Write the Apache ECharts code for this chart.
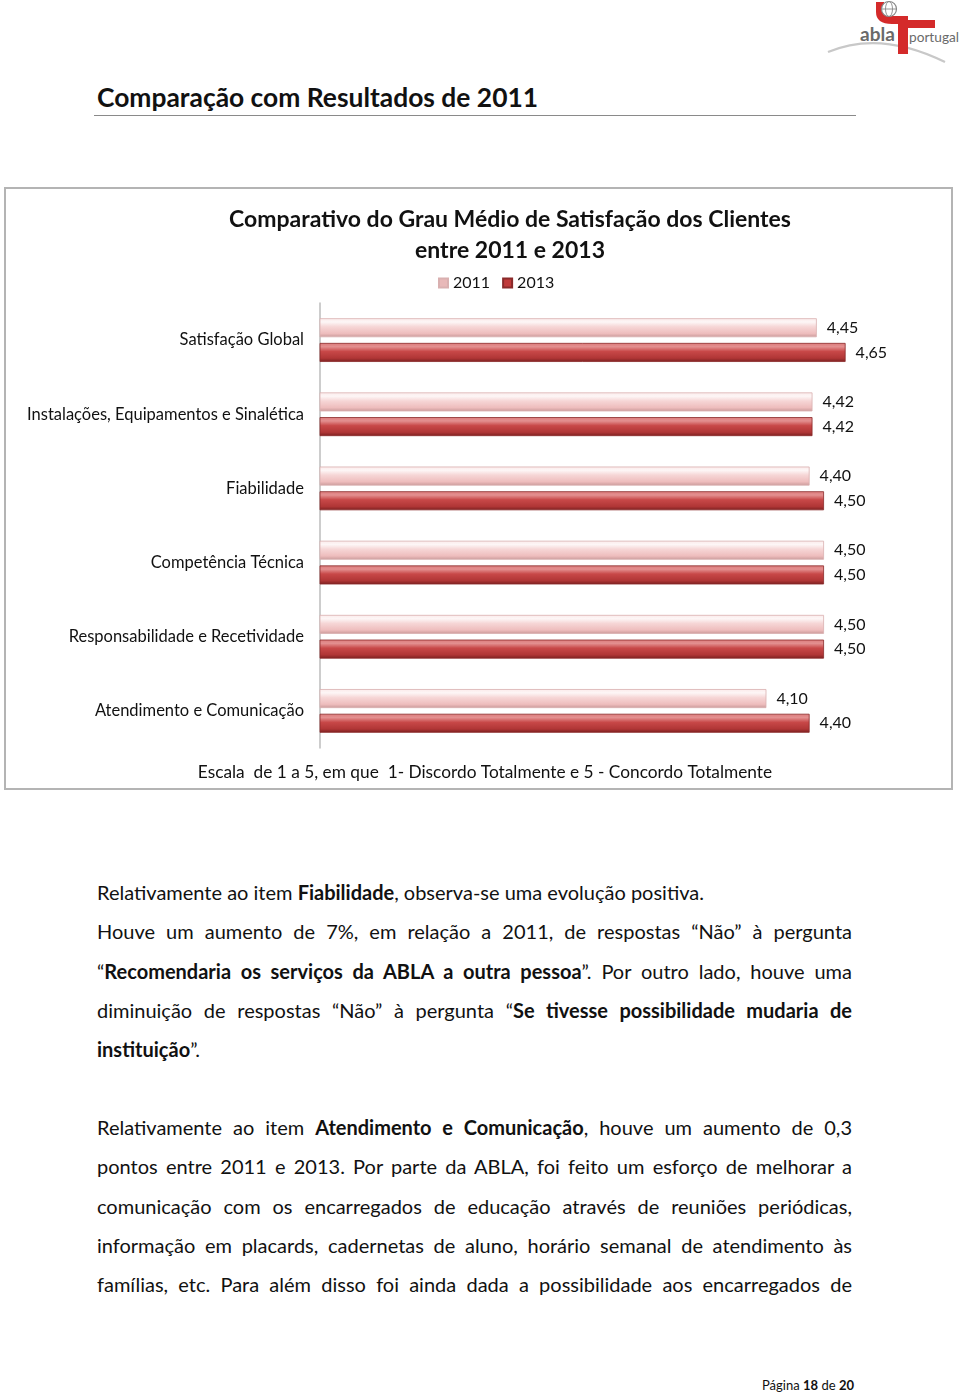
<!DOCTYPE html>
<html>
<head>
<meta charset="utf-8">
<script src="https://cdn.jsdelivr.net/npm/echarts@6/dist/echarts.min.js"></script>
<style>
  html, body { margin:0; padding:0; background:#fff; }
  body { width:960px; height:1394px; position:relative; overflow:hidden; font-family: Lato, "Open Sans", sans-serif; color:#111; }
  #heading { position:absolute; left:97px; top:80px; font-size:26.4px; line-height:34px; font-weight:bold; color:#111; white-space:nowrap; }
  #rule { position:absolute; left:94px; top:115px; width:762px; height:1px; background:#8a8a8a; }
  #box { position:absolute; left:4px; top:187px; width:945px; height:599px; border:2px solid #b4b4b4; }
  #chart { width:945px; height:599px; }
  .para { position:absolute; left:97px; width:755px; font-size:20px; line-height:39.25px; color:#111; }
  .j { text-align:justify; text-align-last:justify; white-space:nowrap; }
  .l { white-space:nowrap; }
  b { font-weight:bold; }
  #footer { position:absolute; left:762px; top:1377px; font-size:13px; color:#111; white-space:nowrap; }
  #logo { position:absolute; left:820px; top:0; }
</style>
</head>
<body>
<svg id="logo" width="140" height="70" viewBox="0 0 140 70">
  <path d="M8 52 Q 60 30 125 62" stroke="#c8c8c8" stroke-width="2.2" fill="none"/>
  <path d="M56 2 L56 12 Q56 24 72 24 L78 24 L78 54 L88 54 L88 28 L115 28 L115 20 L88 20 L88 16 L72 16 Q64 16 64 8 L64 2 Z" fill="#d42a2a"/>
  <circle cx="69" cy="9" r="7.5" fill="#fff" stroke="#888" stroke-width="1.2"/>
  <ellipse cx="69" cy="9" rx="3.5" ry="7.5" fill="none" stroke="#888" stroke-width="0.9"/>
  <line x1="61.5" y1="9" x2="76.5" y2="9" stroke="#888" stroke-width="0.9"/>
  <text x="40" y="41" font-family="Lato, sans-serif" font-weight="bold" font-size="19" fill="#6a6a6a">abla</text>
  <text x="89" y="42" font-family="Lato, sans-serif" font-size="13.5" fill="#6a6a6a" textLength="50" lengthAdjust="spacingAndGlyphs">portugal</text>
</svg>
<div id="heading">Comparação com Resultados de 2011</div>
<div id="rule"></div>
<div id="box"><div id="chart"></div></div>

<div class="para" style="top:873px;">
  <div class="l">Relativamente ao item <b>Fiabilidade</b>, observa-se uma evolução positiva.</div>
  <div class="j">Houve um aumento de 7%, em relação a 2011, de respostas “Não” à pergunta</div>
  <div class="j">“<b>Recomendaria os serviços da ABLA a outra pessoa</b>”. Por outro lado, houve uma</div>
  <div class="j">diminuição de respostas “Não” à pergunta “<b>Se tivesse possibilidade mudaria de</b></div>
  <div class="l"><b>instituição</b>”.</div>
</div>
<div class="para" style="top:1108px;">
  <div class="j">Relativamente ao item <b>Atendimento e Comunicação</b>, houve um aumento de 0,3</div>
  <div class="j">pontos entre 2011 e 2013. Por parte da ABLA, foi feito um esforço de melhorar a</div>
  <div class="j">comunicação com os encarregados de educação através de reuniões periódicas,</div>
  <div class="j">informação em placards, cadernetas de aluno, horário semanal de atendimento às</div>
  <div class="j">famílias, etc. Para além disso foi ainda dada a possibilidade aos encarregados de</div>
</div>
<div id="footer">Página <b>18</b> de <b>20</b></div>

<script>
const categories = ['Satisfação Global', 'Instalações, Equipamentos e Sinalética', 'Fiabilidade',
  'Competência Técnica', 'Responsabilidade e Recetividade', 'Atendimento e Comunicação'];
const seriesNames = ['2011', '2013'];
const values2011 = [4.45, 4.42, 4.40, 4.50, 4.50, 4.10];
const values2013 = [4.65, 4.42, 4.50, 4.50, 4.50, 4.40];
const scaleMin = 1;
const scaleMax = 5;

const FONT = 'Lato, "Open Sans", sans-serif';
const chart = echarts.init(document.getElementById('chart'), null, {renderer: 'canvas'});

function grad(stops) {
  return new echarts.graphic.LinearGradient(0, 0, 0, 1, stops.map(c => ({offset: c[0], color: c[1]})));
}
const pink = grad([[0, '#fbeaea'], [0.2, '#fdf6f6'], [0.45, '#f6d6d6'], [0.8, '#eebdbd'], [1, '#c99999']]);
const red = grad([[0, '#dc7a7a'], [0.2, '#e39090'], [0.45, '#c84848'], [0.8, '#b03636'], [1, '#7a2020']]);

const labelFmt = p => p.value.toFixed(2).replace('.', ',');

chart.setOption({
  animation: false,
  textStyle: {fontFamily: FONT},
  legend: {
    data: [{name: '2011', itemStyle: {color: '#e8b8b8'}}, {name: '2013', itemStyle: {color: '#c03a3a'}}],
    left: 427, top: 81, icon: 'rect', itemWidth: 9, itemHeight: 9, itemGap: 12,
    textStyle: {fontFamily: FONT, fontSize: 16, color: '#111'}
  },
  grid: {left: 314, top: 114, width: 576, height: 445, containLabel: false},
  xAxis: {type: 'value', min: scaleMin, max: scaleMax, show: false},
  yAxis: {
    type: 'category', data: categories, inverse: true,
    axisLine: {show: true, lineStyle: {color: '#bdbdbd', width: 1.5}},
    axisTick: {show: false},
    axisLabel: {fontFamily: FONT, fontSize: 16.5, color: '#111', margin: 16}
  },
  series: [
    {name: seriesNames[0], type: 'bar', data: values2011, barWidth: 19, barGap: '30%',
     itemStyle: {color: pink, borderColor: '#d9b0b0', borderWidth: 0.8},
     label: {show: true, position: 'right', distance: 10, formatter: labelFmt, fontFamily: FONT, fontSize: 16, color: '#111'}},
    {name: seriesNames[1], type: 'bar', data: values2013, barWidth: 19, barGap: '30%',
     itemStyle: {color: red, borderColor: '#8a2a2a', borderWidth: 0.8},
     label: {show: true, position: 'right', distance: 10, formatter: labelFmt, fontFamily: FONT, fontSize: 16, color: '#111'}}
  ],
  graphic: [
    {type: 'text', x: 504, y: 31, style: {text: 'Comparativo do Grau Médio de Satisfação dos Clientes', font: 'bold 23px ' + FONT, fill: '#111', align: 'center', verticalAlign: 'middle'}},
    {type: 'text', x: 504, y: 62, style: {text: 'entre 2011 e 2013', font: 'bold 23px ' + FONT, fill: '#111', align: 'center', verticalAlign: 'middle'}},
    {type: 'text', x: 479, y: 583, style: {text: 'Escala  de 1 a 5, em que  1- Discordo Totalmente e 5 - Concordo Totalmente', font: '17.3px ' + FONT, fill: '#111', align: 'center', verticalAlign: 'middle'}}
  ]
});
</script>
</body>
</html>
